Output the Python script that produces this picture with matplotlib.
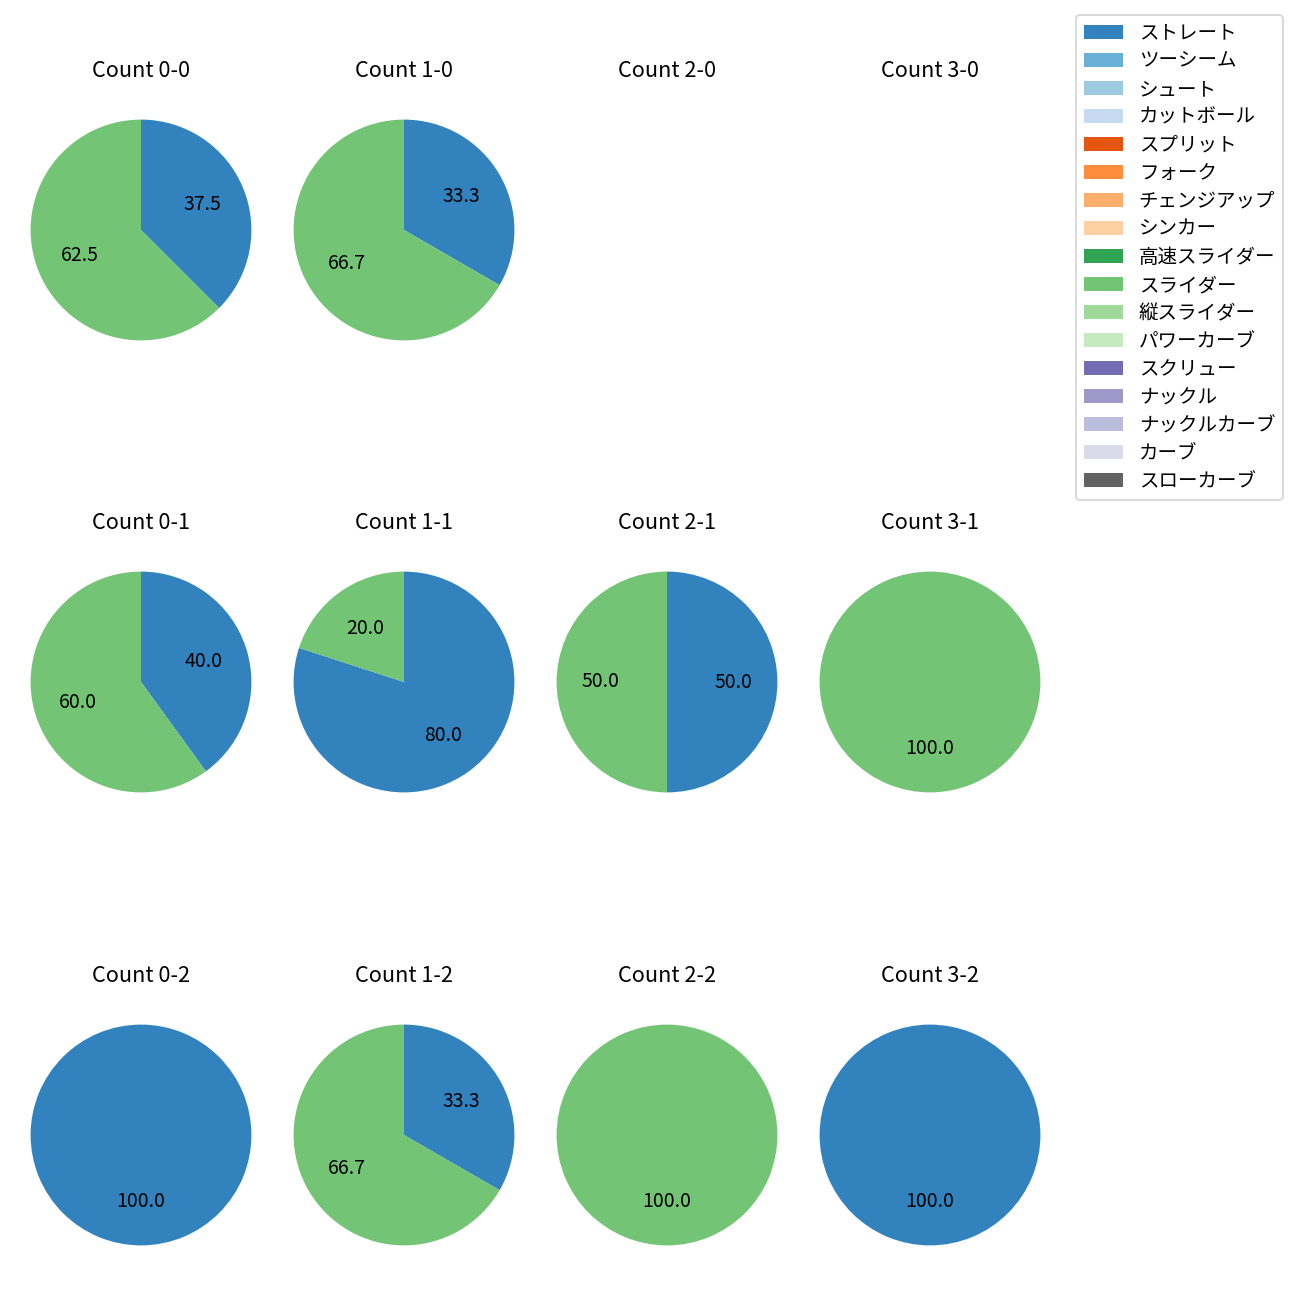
import matplotlib
matplotlib.use("Agg")
import matplotlib.pyplot as plt
from matplotlib.patches import Patch

plt.rcParams['font.family'] = ['Noto Sans CJK JP', 'DejaVu Sans']

pitch_types = ['ストレート', 'ツーシーム', 'シュート', 'カットボール', 'スプリット',
               'フォーク', 'チェンジアップ', 'シンカー', '高速スライダー', 'スライダー',
               '縦スライダー', 'パワーカーブ', 'スクリュー', 'ナックル', 'ナックルカーブ',
               'カーブ', 'スローカーブ']

count_labels = ['0-0', '1-0', '2-0', '3-0',
                '0-1', '1-1', '2-1', '3-1',
                '0-2', '1-2', '2-2', '3-2']
straight = [3, 1, 0, 0, 2, 4, 1, 0, 1, 1, 0, 1]
slider = [5, 2, 0, 0, 3, 1, 1, 1, 0, 2, 1, 0]

cmap = plt.get_cmap('tab20c')
colors = [cmap(i) for i in range(17)]
straight_color = colors[pitch_types.index('ストレート')]
slider_color = colors[pitch_types.index('スライダー')]

W = H = 1300
fig = plt.figure(figsize=(10, 10), dpi=130)

col_cx = [141, 404, 667, 930]
row_cy = [230, 682, 1135]
side = 276

for i, lab in enumerate(count_labels):
    r, c = divmod(i, 4)
    cx, cy = col_cx[c], row_cy[r]
    ax = fig.add_axes([(cx - side / 2) / W, (H - cy - side / 2) / H, side / W, side / H])
    vals, cols = [], []
    if straight[i] > 0:
        vals.append(straight[i]); cols.append(straight_color)
    if slider[i] > 0:
        vals.append(slider[i]); cols.append(slider_color)
    if vals:
        ax.pie(vals, colors=cols, autopct='%.1f', startangle=90, counterclock=False,
               textprops={'fontsize': 10.8})
    else:
        ax.axis('off')
    ax.set_title(f'Count {lab}', fontsize=12, pad=8.2)

handles = [Patch(facecolor=colors[k], label=pitch_types[k]) for k in range(17)]
fig.legend(handles=handles, loc='upper right', borderaxespad=0, fontsize=10.8,
           labelspacing=0.36, bbox_to_anchor=(1283 / W, 1 - 15 / H))

fig.savefig('out.png', dpi=130)
